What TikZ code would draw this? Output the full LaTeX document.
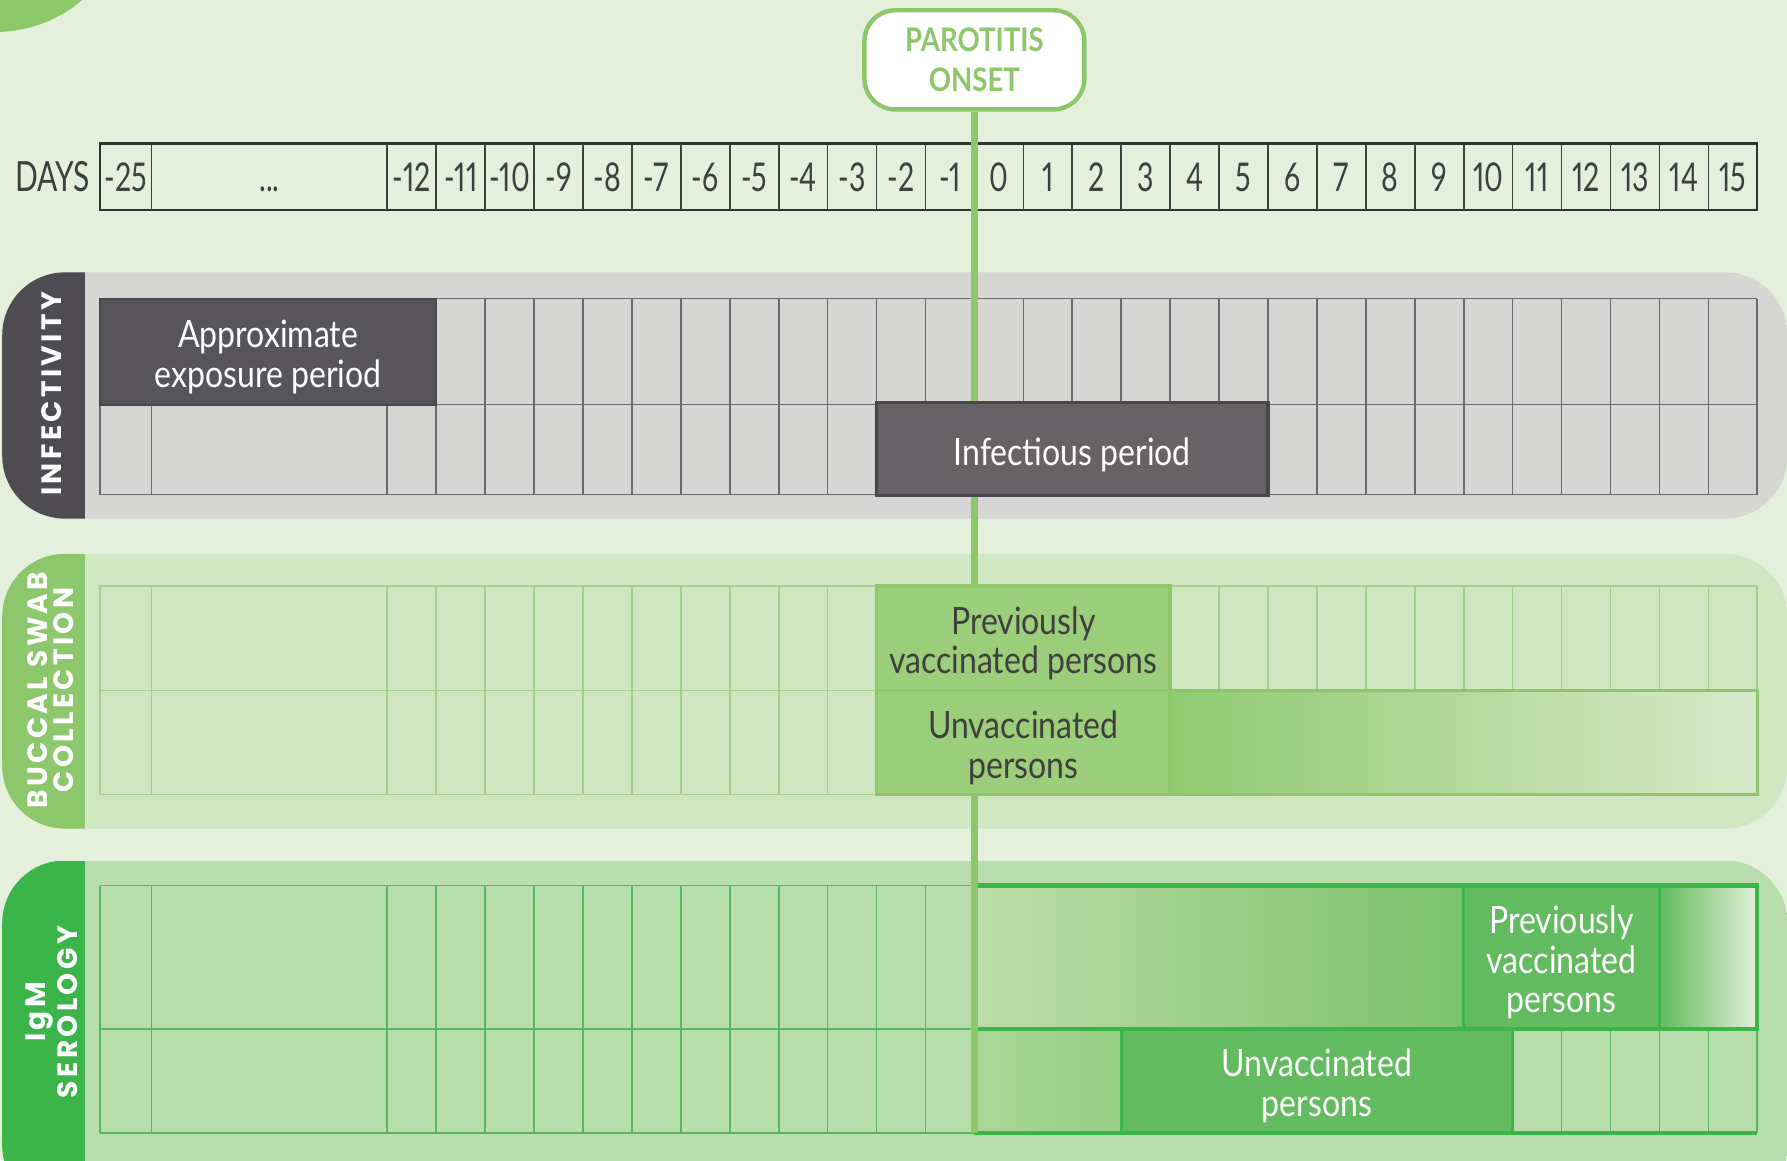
\documentclass[tikz,border=0pt]{standalone}
\usepackage{fontspec}
\setmainfont{Lato}[FakeStretch=0.85]
\newfontfamily\dayfont{Lato}[FakeStretch=0.72, Numbers=Proportional]
\newfontfamily\tabfont{Poppins}[LetterSpace=12]
\usepackage{xcolor}
\usepackage{tikz}

\definecolor{bgpale}{HTML}{E4F0DC}
\definecolor{bandgrey}{HTML}{D6D6D4}
\definecolor{tabdark}{HTML}{4E4C50}
\definecolor{bandbuccal}{HTML}{D0E6C0}
\definecolor{tabbuccal}{HTML}{8CC86B}
\definecolor{bandigm}{HTML}{B7DDAC}
\definecolor{tabigm}{HTML}{3BB44A}
\definecolor{gridgrey}{HTML}{6A6A6A}
\definecolor{gridbuccal}{HTML}{9ED388}
\definecolor{gridigm}{HTML}{55B860}
\definecolor{textgrey}{HTML}{3F3F3F}
\definecolor{exposurefill}{HTML}{58555A}
\definecolor{infectfill}{HTML}{676265}
\definecolor{boxedge}{HTML}{4A474B}
\definecolor{buccalfill}{HTML}{9BCE7A}
\definecolor{igmfill}{HTML}{62BB5F}

\begin{document}
\begin{tikzpicture}[
  x=4.293mm, y=-1mm,
  daylabel/.style={font=\dayfont\fontsize{9.9}{10}\selectfont, text=textgrey, anchor=base, inner sep=0pt},
  tablabel/.style={rotate=90, text=white, align=center, inner sep=0pt,
    font=\tabfont\bfseries\fontsize{7}{6.4}\selectfont},
  periodbox/.style={draw, line width=0.85pt, inner sep=0pt},
  boxtext/.style={align=center, inner sep=0pt, font=\fontsize{9.4}{9.9}\selectfont},
  gridline/.style={line width=0.4pt},
  onsetline/.style={draw=tabbuccal, line width=1.7pt},
]
  \useasboundingbox (-19.916,0) rectangle (16.608,101.8);
  \clip (-19.916,0) rectangle (16.608,101.8);
  \fill[bgpale] (-19.916,0) rectangle (16.608,101.8);
  \fill[tabbuccal] (-20.01,-9) circle (11.8mm);

  % --- bands and tabs ---
  \foreach \ytop/\ybot/\bandcol/\tabcol in {23.9/45.5/bandgrey/tabdark,
      48.6/72.7/bandbuccal/tabbuccal, 75.5/106/bandigm/tabigm} {
    \begin{scope}
      \clip[rounded corners=5.5mm] (-19.87,\ytop) rectangle (16.62,\ybot);
      \fill[\bandcol] (-19.87,\ytop) rectangle (16.62,\ybot);
      \fill[\tabcol] (-19.87,\ytop) rectangle (-18.17,\ybot);
    \end{scope}
  }
  \node[tablabel] (infectivity) at (-18.87,34.55) {INFECTIVITY};
  \node[tablabel] (buccal) at (-18.88,60.55) {BUCCAL SWAB\\COLLECTION};
  \node[tablabel] (igm) at (-18.86,88.8) {IgM\\SEROLOGY};

  % --- days row ---
  \draw[textgrey!80!black, line width=0.6pt] (-17.866,12.6) rectangle (16,18.4);
  \draw[textgrey, gridline] (-16.82,12.6) -- (-16.82,18.4);
  \foreach \x in {-12,...,15}
    \draw[textgrey, gridline] (\x,12.6) -- (\x,18.4);
  \node[daylabel, anchor=base east, font=\dayfont\fontsize{10.4}{10}\selectfont]
    (dayshead) at (-18.06,16.82) {DAYS};
  \node[daylabel] (dayfirst) at (-17.34,16.82) {-25};
  \node[daylabel] (daydots) at (-14.41,16.82) {...};
  \foreach \d in {-12,...,15}
    \node[daylabel] (day\d) at (\d+0.5,16.82) {\d};

  % --- grids ---
  \foreach \ytop/\ymid/\ybot/\gridcol in {26.2/35.5/43.4/gridgrey,
      51.4/60.6/69.7/gridbuccal, 77.7/90.3/99.4/gridigm} {
    \foreach \y in {\ytop,\ymid,\ybot}
      \draw[\gridcol, gridline] (-17.866,\y) -- (16,\y);
    \draw[\gridcol, gridline] (-17.866,\ytop) -- (-17.866,\ybot);
    \draw[\gridcol, gridline] (-16.82,\ytop) -- (-16.82,\ybot);
    \foreach \x in {-12,...,16}
      \draw[\gridcol, gridline] (\x,\ytop) -- (\x,\ybot);
  }

  % --- fading areas ---
  \shade[left color={rgb,255:red,188;green,221;blue,170},
         right color={rgb,255:red,123;green,193;blue,105}] (0,77.7) rectangle (10,90.3);
  \shade[left color=igmfill, middle color={rgb,255:red,172;green,216;blue,160},
         right color={rgb,255:red,224;green,239;blue,216}] (14,77.7) rectangle (16,90.3);
  \shade[left color={rgb,255:red,170;green,215;blue,152},
         right color={rgb,255:red,152;green,206;blue,134}] (0,90.3) rectangle (3,99.4);
  \shade[left color={rgb,255:red,143;green,202;blue,112},
         right color={rgb,255:red,215;green,234;blue,202}] (4,60.6) rectangle (16,69.7);
  \draw[tabbuccal, line width=0.85pt] (4,60.6) rectangle (16,69.7);

  % --- onset ---
  \node[draw=tabbuccal, line width=1.1pt, fill=white, rounded corners=2.7mm,
        minimum width=19.3mm, minimum height=8.7mm, inner sep=0pt, align=center,
        text=tabbuccal, font=\bfseries\fontsize{8.1}{9.96}\selectfont]
        (onset) at (0,5.25) {PAROTITIS\\ONSET};
  \coordinate (onsetend) at (0,99.4);
  \draw[onsetline] (onset) -- (onsetend);

  % --- infectivity ---
  \node[periodbox, fill=exposurefill, draw=boxedge, line width=0.5pt,
        minimum width=29.48mm, minimum height=9.3mm] (exposure) at (-14.433,30.85) {};
  \node[boxtext, text=white] (exposuretext) at ([yshift=-0.45mm]exposure.center)
        {Approximate\\exposure period};
  \node[periodbox, fill=infectfill, draw=boxedge,
        minimum width=34.34mm, minimum height=8.2mm] (infectious) at (2,39.4) {};
  \node[boxtext, text=white] (infectioustext) at ([yshift=-0.5mm]infectious.center)
        {Infectious period};

  % --- buccal swab ---
  \node[periodbox, fill=buccalfill, draw=tabbuccal,
        minimum width=25.76mm, minimum height=9.2mm] (buccalprev) at (1,56.0) {};
  \node[boxtext, text=textgrey] (buccalprevtext) at ([yshift=-0.45mm]buccalprev.center)
        {Previously\\vaccinated persons};
  \node[periodbox, fill=buccalfill, draw=tabbuccal,
        minimum width=25.76mm, minimum height=9.1mm] (buccalunvac) at (1,65.15) {};
  \node[boxtext, text=textgrey] (buccalunvactext) at ([yshift=-0.45mm]buccalunvac.center)
        {Unvaccinated\\persons};

  % --- IgM serology ---
  \node[periodbox, fill=igmfill, draw=tabigm,
        minimum width=17.17mm, minimum height=12.6mm] (igmprev) at (12,84.0) {};
  \node[boxtext, text=white] (igmprevtext) at ([yshift=-0.45mm]igmprev.center)
        {Previously\\vaccinated\\persons};
  \node[periodbox, fill=igmfill, draw=tabigm,
        minimum width=34.34mm, minimum height=9.1mm] (igmunvac) at (7,94.85) {};
  \node[boxtext, text=white] (igmunvactext) at ([yshift=-0.45mm]igmunvac.center)
        {Unvaccinated\\persons};
  \draw[tabigm, line width=1.1pt] (0,77.7) rectangle (16,90.3);
  \draw[tabigm, line width=1.1pt] (0,99.4) -- (16,99.4);
  \draw[onsetline] (0,77.1) -- (onsetend);
\end{tikzpicture}
\end{document}
